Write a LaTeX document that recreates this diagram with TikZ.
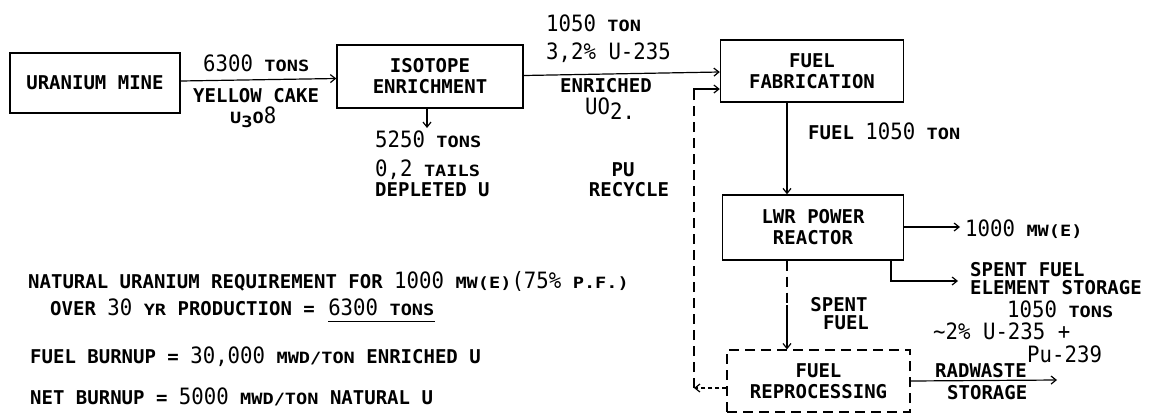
\documentclass[tikz,border=0pt]{standalone}
\usepackage{fontspec}
\usetikzlibrary{arrows.meta}
\newfontfamily\txmfam{DejaVu Sans Mono Bold}
\newfontfamily\txsfam[FakeStretch=1.2]{DejaVu Sans Mono Bold}
\newfontfamily\txnfam[FakeStretch=0.92]{DejaVu Sans Mono}
\newcommand\txm{\txmfam\fontsize{19}{21}\selectfont}
\newcommand\txs{\txsfam\fontsize{15.5}{18}\selectfont}
\newcommand\txn{\txnfam\fontsize{22.5}{24}\selectfont}
\begin{document}
\begin{tikzpicture}[x=1pt,y=-1pt,
  box/.style={draw,line width=1.4pt,rectangle,inner sep=0pt,align=center,font=\txm},
  lbl/.style={inner sep=0pt,font=\txm,anchor=west},
  clbl/.style={inner sep=0pt,font=\txm},
  arr/.style={line width=1.2pt,-{Straight Barb[length=5pt,width=8pt,line width=1.2pt]}},
  ln/.style={line width=1.2pt},
  dsh/.style={line width=1.2pt,dash pattern=on 10pt off 6pt},
]
\useasboundingbox (0,0) rectangle (1156,413);
\fill[white] (0,0) rectangle (1156,413);

% boxes
\node[box,minimum width=170pt,minimum height=60pt] (mine) at (95,83) {URANIUM MINE};
\node[box,minimum width=186pt,minimum height=63pt] (iso) at (430,76.5) {ISOTOPE\\ENRICHMENT};
\node[box,minimum width=183pt,minimum height=62pt] (fab) at (812,71) {FUEL\\FABRICATION};
\node[box,minimum width=181pt,minimum height=65pt] (lwr) at (813,227.5) {LWR POWER\\REACTOR};
\node[box,dsh,minimum width=183pt,minimum height=62pt] (repro) at (818.5,381) {FUEL\\REPROCESSING};

% free ends
\coordinate (tails) at (427,128);
\coordinate (pw) at (960,227);
\coordinate (sfs) at (958,281);
\coordinate (rw) at (1057,380);
\coordinate (pu) at (694,388);
\coordinate (putop) at (694,100);
\coordinate (spmid) at (787,305);

% connectors
\draw[arr] ([yshift=2pt]mine.east) -- ([yshift=-2pt]iso.west);
\draw[arr] ([yshift=1pt]iso.east) -- ([yshift=-1pt]fab.west);
\draw[arr] (iso.south -| tails) -- (tails);
\draw[arr] (fab.south -| spmid) -- (lwr.north -| spmid);
\draw[arr] (lwr.east |- pw) -- (pw);
\draw[arr] (lwr.south -| 891,0) |- (sfs);
\draw[dsh] (lwr.south -| spmid) -- (spmid);
\draw[arr] (spmid) -- (repro.north -| spmid);
\draw[arr] (repro.east) -- (rw);
\draw[arr,dash pattern=on 4pt off 3pt] (repro.west |- pu) -- (pu);
\draw[dsh] (pu) -- (putop);
\draw[arr] (putop) |- (fab.west |- 0,89);

% labels
\node[lbl] (l6300) at (203,63) {{\txn 6300} {\txs TONS}};
\node[lbl] (lyc) at (193,96) {YELLOW CAKE};
\node[lbl] (lu3o8) at (230,117) {{\txs U\raisebox{-4pt}{3}O}{\txn 8}};
\node[lbl] (l1050) at (546,23) {{\txn 1050} {\txs TON}};
\node[lbl] (l32) at (546,53) {{\txn 3,2\% U-235}};
\node[lbl] (lenr) at (560,86) {ENRICHED};
\node[lbl] (luo2) at (585,109) {{\txn UO}\raisebox{-5pt}{\txn 2.}};
\node[lbl] (l5250) at (375,139) {{\txn 5250} {\txs TONS}};
\node[lbl] (ltails) at (375,170) {{\txn 0,2} {\txs TAILS}};
\node[lbl] (ldep) at (375,190) {DEPLETED U};
\node[clbl] (lpu) at (623,170) {PU};
\node[clbl] (lrec) at (629,190) {RECYCLE};
\node[lbl] (lfuel) at (808,131) {FUEL {\txn 1050} {\txs TON}};
\node[lbl] (lpw) at (965,229) {{\txn 1000} {\txs MW(E)}};
\node[lbl] (lsf1) at (970,270) {SPENT FUEL};
\node[lbl] (lsf2) at (970,288) {ELEMENT STORAGE};
\node[lbl] (l1050b) at (1007,309) {{\txn 1050} {\txs TONS}};
\node[lbl] (l2pc) at (933,331) {{\txn \textasciitilde 2\% U-235 +}};
\node[lbl] (lpu239) at (1027,354) {{\txn Pu-239}};
\node[clbl] (lsp1) at (839,305) {SPENT};
\node[clbl] (lsp2) at (846,323) {FUEL};
\node[lbl] (lrw1) at (935,371) {RADWASTE};
\node[lbl] (lrw2) at (947,393) {STORAGE};

% notes
\node[lbl] (n1) at (28,281) {NATURAL URANIUM REQUIREMENT FOR {\txn 1000} {\txs MW(E)}{\txn (75\%} {\txs P.F.)}};
\node[lbl] (n2) at (50,307) {OVER {\txn 30} {\txs YR} PRODUCTION =\kern13pt};
\node[inner sep=0pt,font=\txm,anchor=base west] (n2b) at (n2.base east) {{\txn 6300} {\txs TONS}};
\draw[ln] ([yshift=-6pt]n2b.south west) -- ([yshift=-6pt]n2b.south east);
\node[lbl] (n3) at (30,357) {FUEL BURNUP = {\txn 30,000} {\txs MWD/TON} ENRICHED U};
\node[lbl] (n4) at (30,397) {NET BURNUP = {\txn 5000} {\txs MWD/TON} NATURAL U};
\end{tikzpicture}
\end{document}
